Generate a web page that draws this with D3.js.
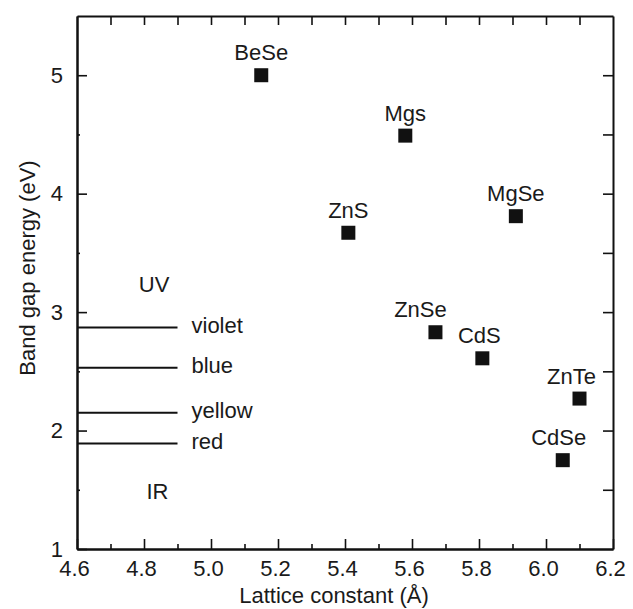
<!DOCTYPE html>
<html><head><meta charset="utf-8">
<script src="https://cdn.jsdelivr.net/npm/d3@7/dist/d3.min.js"></script>
<style>body{margin:0;background:#fff}</style>
</head><body><svg id="c" width="633" height="609"></svg>
<script>
// ---- data ----
const compounds = ["BeSe","Mgs","ZnS","MgSe","ZnSe","CdS","ZnTe","CdSe"];
const latticeConstant = [5.15,5.58,5.41,5.91,5.67,5.81,6.10,6.05];
const bandGap = [5.00,4.49,3.67,3.81,2.83,2.61,2.27,1.75];
const colorNames = ["violet","blue","yellow","red"];
const colorEnergies = [2.87,2.53,2.15,1.89];
const colorLineEnd = 4.9;
const regionNames = ["UV","IR"];
const regionX = [4.83,4.84];
const regionEnergies = [3.24,1.49];
const xTickLabels = ["4.6","4.8","5.0","5.2","5.4","5.6","5.8","6.0","6.2"];
const yTickLabels = ["1","2","3","4","5"];
const xTitle = "Lattice constant (Å)";
const yTitle = "Band gap energy (eV)";

// ---- layout / style ----
const FONT = "'Liberation Sans', Arial, Helvetica, sans-serif";
const FS = 22;
const M = {left:77, top:16, right:20, bottom:60};
const W = 633, H = 609;
const labelShift = {ZnSe:-15, ZnTe:-8, CdSe:-4, CdS:-3};

const svg = d3.select("#c");
const x = d3.scaleLinear().domain([4.6,6.2]).range([M.left, W - M.right]);
const y = d3.scaleLinear().domain([1,5.5]).range([H - M.bottom, M.top]);

const xMajor = xTickLabels.map(Number);
const xMinor = d3.range(47,62,2).map(v => v/10);
const xAll = d3.range(46,63).map(v => v/10);
const yMajor = yTickLabels.map(Number);
const yMinor = [1.5,2.5,3.5,4.5];
const yAll = d3.range(2,12).map(v => v/2);

function style(g){
  g.selectAll("path.domain").attr("stroke","#111").attr("stroke-width",2);
  g.selectAll(".tick line").attr("stroke","#111").attr("stroke-width",1.6);
  g.selectAll(".tick text").attr("fill","#1a1a1a").style("font-family",FONT).style("font-size",FS+"px");
}

// bottom minor
svg.append("g").attr("transform",`translate(0,${y(1)})`)
  .call(d3.axisBottom(x).tickValues(xMinor).tickSizeInner(-5).tickSizeOuter(0).tickFormat(""))
  .call(style);
// bottom major
const gb = svg.append("g").attr("transform",`translate(0,${y(1)})`)
  .call(d3.axisBottom(x).tickValues(xMajor).tickSizeInner(-10).tickSizeOuter(0).tickPadding(11).tickFormat((d,i)=>xTickLabels[i]))
  .call(style);
gb.selectAll(".tick text").attr("dx",-3);
// top
svg.append("g").attr("transform",`translate(0,${y(5.5)})`)
  .call(d3.axisTop(x).tickValues(xAll.slice(1,-1)).tickSizeInner(-9).tickSizeOuter(0).tickFormat(""))
  .call(style);
// left minor
svg.append("g").attr("transform",`translate(${x(4.6)},0)`)
  .call(d3.axisLeft(y).tickValues(yMinor).tickSizeInner(-3).tickSizeOuter(0).tickFormat(""))
  .call(style);
// left major
svg.append("g").attr("transform",`translate(${x(4.6)},0)`)
  .call(d3.axisLeft(y).tickValues(yMajor).tickSizeInner(-10).tickSizeOuter(0).tickPadding(14).tickFormat((d,i)=>yTickLabels[i]))
  .call(style);
// right
svg.append("g").attr("transform",`translate(${x(6.2)},0)`)
  .call(d3.axisRight(y).tickValues(yAll.slice(0,-1).filter(v=>v>1)).tickSizeInner(-10).tickSizeOuter(0).tickFormat(""))
  .call(style);

// titles
svg.append("text").attr("x",334).attr("y",603).attr("text-anchor","middle")
  .style("font-family",FONT).style("font-size",FS+"px").attr("fill","#1a1a1a").text(xTitle);
svg.append("text").attr("transform",`translate(35,268) rotate(-90)`).attr("text-anchor","middle")
  .style("font-family",FONT).style("font-size",FS+"px").attr("fill","#1a1a1a").text(yTitle);

// colour reference lines
const cl = svg.append("g");
colorNames.forEach((n,i)=>{
  cl.append("line").attr("x1",x(4.6)).attr("x2",x(colorLineEnd))
    .attr("y1",y(colorEnergies[i])).attr("y2",y(colorEnergies[i]))
    .attr("stroke","#111").attr("stroke-width",2);
  cl.append("text").attr("x",x(colorLineEnd)+14).attr("y",y(colorEnergies[i])+5.5)
    .style("font-family",FONT).style("font-size",FS+"px").attr("fill","#1a1a1a").text(n);
});
regionNames.forEach((n,i)=>{
  svg.append("text").attr("x",x(regionX[i])).attr("y",y(regionEnergies[i])+8)
    .attr("text-anchor","middle").style("font-family",FONT).style("font-size",FS+"px")
    .attr("fill","#1a1a1a").text(n);
});

// points
const S = 14;
const pts = svg.append("g");
compounds.forEach((n,i)=>{
  const cx = x(latticeConstant[i]), cy = y(bandGap[i]);
  pts.append("rect").attr("x",cx-S/2).attr("y",cy-S/2).attr("width",S).attr("height",S).attr("fill","#111");
  pts.append("text").attr("x",cx+(labelShift[n]||0)).attr("y",cy-15).attr("text-anchor","middle")
    .style("font-family",FONT).style("font-size",FS+"px").attr("fill","#1a1a1a").text(n);
});
</script></body></html>
